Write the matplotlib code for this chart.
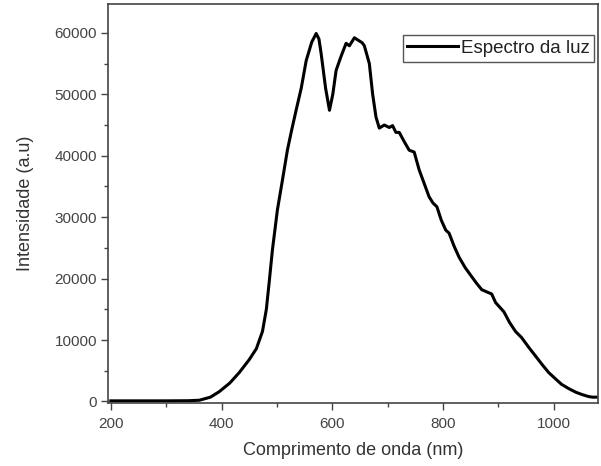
import matplotlib.pyplot as plt

plt.rcParams['font.family'] = ['Liberation Sans', 'DejaVu Sans']

# spectrum (wavelength in nm, intensity in a.u.)
wavelength = [200, 250, 300, 340, 360, 380, 396, 415, 432, 450, 463, 474, 481,
              486, 492, 501, 510, 519, 527, 535, 544, 553, 563, 571, 576, 580,
              588, 595, 601, 607, 616, 625, 631, 640, 647, 654, 658, 667, 673,
              679, 685, 694, 703, 709, 715, 721, 730, 739, 748, 757, 766, 775,
              782, 789, 797, 805, 811, 820, 829, 840, 852, 861, 870, 880, 888,
              895, 902, 910, 920, 931, 942, 955, 968, 980, 991, 1003, 1014,
              1027, 1040, 1052, 1063, 1070, 1077]
intensity = [100, 100, 100, 120, 200, 700, 1600, 3000, 4700, 6800, 8600, 11400,
             15000, 19300, 24700, 31200, 36000, 40900, 44300, 47500, 51000,
             55500, 58500, 59900, 59000, 56600, 51000, 47400, 50000, 53900,
             56200, 58300, 57900, 59200, 58800, 58400, 57900, 55000, 50000,
             46300, 44500, 45000, 44600, 44900, 43800, 43800, 42300, 40900,
             40600, 37700, 35500, 33300, 32300, 31700, 29500, 27900, 27400,
             25300, 23500, 21800, 20300, 19200, 18200, 17800, 17500, 16100,
             15400, 14600, 12900, 11400, 10400, 8800, 7300, 5900, 4700, 3700,
             2800, 2100, 1500, 1100, 800, 700, 700]

xticks = [200, 400, 600, 800, 1000]
yticks = [0, 10000, 20000, 30000, 40000, 50000, 60000]

fig = plt.figure(figsize=(6.01, 4.66), dpi=100)
ax = fig.add_axes([108 / 601, 1 - 403 / 466, 490 / 601, 399 / 466])

ax.plot(wavelength, intensity, color='black', linewidth=2.2, label='Espectro da luz')

ax.set_xlim(195, 1080)
ax.set_ylim(-250, 64700)
ax.set_xticks(xticks)
ax.set_xticks(range(300, 1001, 200), minor=True)
ax.set_yticks(yticks)
ax.set_yticks(range(5000, 60001, 10000), minor=True)

ax.tick_params(axis='both', which='major', direction='out', length=5, width=1,
               labelsize=11, labelcolor='#444444', color='#444444', pad=3)
ax.tick_params(axis='x', which='major', pad=5)
ax.tick_params(axis='both', which='minor', direction='out', length=3, width=1,
               color='#444444')
for s in ax.spines.values():
    s.set_color('#444444')
    s.set_linewidth(1.2)

ax.set_xlabel('Comprimento de onda (nm)', fontsize=13, color='#333333', labelpad=8)
ax.set_ylabel('Intensidade (a.u)', fontsize=13, color='#333333', labelpad=15)

leg = ax.legend(loc='upper right', bbox_to_anchor=(0.992, 0.922), fontsize=13.5,
                handlelength=2.7, fancybox=False, framealpha=1,
                borderpad=0.25, handletextpad=0.15, borderaxespad=0)
leg.get_frame().set_edgecolor('#555555')
leg.get_frame().set_linewidth(1.0)
for t in leg.get_texts():
    t.set_color('#222222')

fig.savefig('out.png', dpi=100)
